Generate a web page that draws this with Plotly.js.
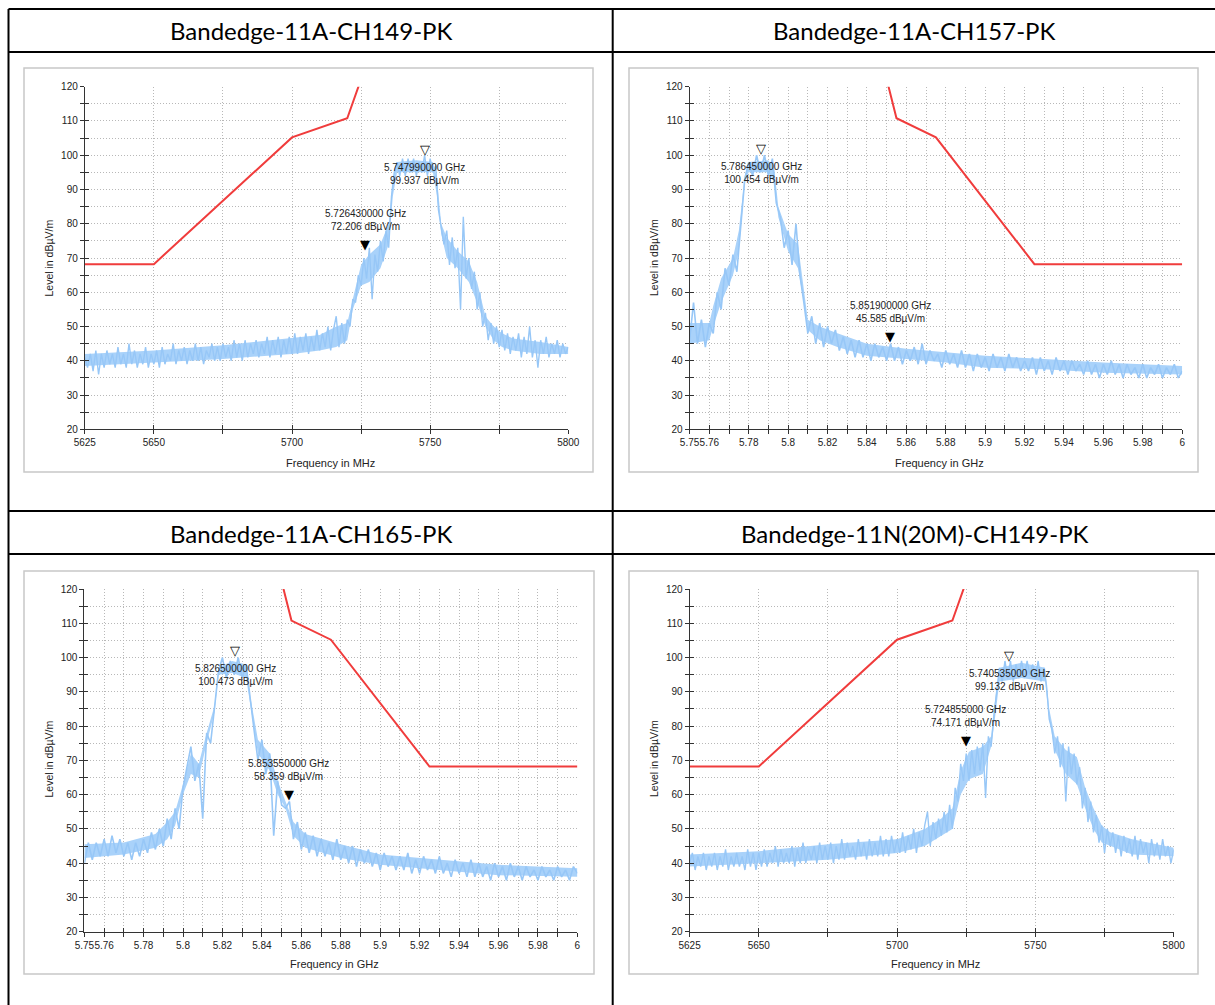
<!DOCTYPE html>
<html>
<head>
<meta charset="utf-8">
<script src="https://cdn.plot.ly/plotly-3.0.1.min.js"></script>
<style>
html,body{margin:0;padding:0;background:#fff;}
#chart{width:1215px;height:1005px;}
</style>
</head>
<body>
<div id="chart"></div>
<script>
// ---------------- DATA ----------------
const panelTitles = ['Bandedge-11A-CH149-PK','Bandedge-11A-CH157-PK','Bandedge-11A-CH165-PK','Bandedge-11N(20M)-CH149-PK'];

// sweep frequencies (MHz panels)
const freqMHz = [
5625,5626,5627,5628,5629,5630,5631,5632,5633,5634,5635,5636,5637,5638,5639,5640,5641,5642,5643,5644,5645,5646,5647,5648,5649,
5650,5651,5652,5653,5654,5655,5656,5657,5658,5659,5660,5661,5662,5663,5664,5665,5666,5667,5668,5669,5670,5671,5672,5673,5674,
5675,5676,5677,5678,5679,5680,5681,5682,5683,5684,5685,5686,5687,5688,5689,5690,5691,5692,5693,5694,5695,5696,5697,5698,5699,
5700,5701,5702,5703,5704,5705,5706,5707,5708,5709,5710,5711,5712,5713,5714,5715,5716,5717,5718,5719,5720,5721,5722,5723,5724,
5725,5726,5727,5728,5729,5730,5731,5732,5733,5734,5735,5736,5737,5738,5739,5740,5741,5742,5743,5744,5745,5746,5747,5748,5749,
5750,5751,5752,5753,5754,5755,5756,5757,5758,5759,5760,5761,5762,5763,5764,5765,5766,5767,5768,5769,5770,5771,5772,5773,5774,
5775,5776,5777,5778,5779,5780,5781,5782,5783,5784,5785,5786,5787,5788,5789,5790,5791,5792,5793,5794,5795,5796,5797,5798,5799,
5800];

// sweep frequencies (GHz panels)
const freqGHz = [
5.750,5.752,5.754,5.756,5.758,5.760,5.762,5.764,5.766,5.768,
5.770,5.772,5.774,5.776,5.778,5.780,5.782,5.784,5.786,5.788,
5.790,5.792,5.794,5.796,5.798,5.800,5.802,5.804,5.806,5.808,
5.810,5.812,5.814,5.816,5.818,5.820,5.822,5.824,5.826,5.828,
5.830,5.832,5.834,5.836,5.838,5.840,5.842,5.844,5.846,5.848,
5.850,5.852,5.854,5.856,5.858,5.860,5.862,5.864,5.866,5.868,
5.870,5.872,5.874,5.876,5.878,5.880,5.882,5.884,5.886,5.888,
5.890,5.892,5.894,5.896,5.898,5.900,5.902,5.904,5.906,5.908,
5.910,5.912,5.914,5.916,5.918,5.920,5.922,5.924,5.926,5.928,
5.930,5.932,5.934,5.936,5.938,5.940,5.942,5.944,5.946,5.948,
5.950,5.952,5.954,5.956,5.958,5.960,5.962,5.964,5.966,5.968,
5.970,5.972,5.974,5.976,5.978,5.980,5.982,5.984,5.986,5.988,
5.990,5.992,5.994,5.996,5.998,
6.000];

const level11A_CH149 = [
41,38,42,37,43,36,42,38,43,39,42,38,44,39,42,38,45,39,43,38,42,39,44,38,42,
39,43,38,44,39,42,40,45,39,43,40,44,39,43,40,45,40,44,39,43,41,45,40,44,40,
45,41,44,40,46,41,45,40,46,41,45,42,46,41,45,42,47,41,46,42,47,41,46,42,47,
42,48,42,47,43,48,42,47,43,49,43,48,44,50,43,49,53,44,51,45,52,50,58,57,65,
62,70,64,73,58,71,66,75,69,78,73,88,95,98,94,99,94,99,95,99,94,98,95,100,94,
99,95,97,84,79,74,78,68,76,67,73,55,82,64,70,61,66,55,60,50,54,46,51,45,50,
44,49,43,48,42,47,43,48,41,47,42,50,41,46,38,46,42,47,41,45,42,46,41,45,42,
44];

const level11N_CH149 = [
40,43,38,42,39,43,38,42,39,43,38,42,39,44,38,42,39,43,39,42,38,44,39,43,38,
43,39,44,39,43,40,45,39,44,40,43,40,45,39,44,40,46,40,44,41,45,40,46,41,45,
41,46,40,45,41,47,41,46,42,45,41,47,42,46,41,47,42,46,42,48,42,47,42,48,43,
47,43,49,43,48,44,50,43,49,45,51,55,45,52,47,53,48,55,49,57,50,62,58,69,64,
72,64,73,66,74,67,75,59,77,74,83,90,97,93,99,94,99,93,98,94,99,94,99,95,98,
94,99,93,97,92,82,79,72,77,68,75,58,74,66,72,63,68,56,62,52,58,49,54,46,51,
43,50,45,49,43,48,42,48,43,47,42,48,41,47,43,46,40,47,42,46,41,47,42,45,40,
44];

const level11A_CH157 = [
46,57,45,52,44,51,48,60,55,67,
62,71,66,80,93,98,94,100,95,100,
94,99,86,82,73,78,68,80,65,57,
48,53,45,51,44,50,45,49,43,47,
42,46,41,46,41,45,40,45,41,44,
40,45,40,44,39,43,40,44,39,45,
39,43,40,42,38,43,39,42,38,43,
38,42,37,42,38,41,37,42,38,41,
37,42,38,41,37,40,37,41,36,41,
37,40,36,41,37,40,36,40,37,39,
36,40,36,39,35,39,36,40,36,39,
35,39,36,38,35,39,35,38,36,39,
35,38,36,39,35,
37];

const level11A_CH165 = [
40,46,41,46,42,47,42,48,43,47,
42,46,41,46,42,47,43,49,44,50,
45,53,47,56,50,62,68,74,64,69,
53,78,75,85,96,100,94,99,95,100,
94,98,88,79,70,76,66,72,48,64,
57,56,58,47,52,44,49,43,48,42,
47,42,46,41,47,41,45,40,45,39,
44,40,44,39,43,38,43,39,42,38,
42,38,43,37,41,37,42,38,41,37,
42,37,40,36,41,37,40,36,41,36,
40,36,39,35,40,36,39,35,40,36,
39,35,39,36,38,35,39,36,38,35,
39,36,38,35,39,
37];

// dense core of each noisy trace (lower / upper edge of the solid band)
const band11A_CH149_F  = [5625,5650,5675,5700,5710,5716,5720,5722,5725,5728,5732,5735,5736.5,5738,5745,5751,5752.5,5754,5756,5760,5764,5767,5770,5773,5776,5780,5790,5800];
const band11A_CH149_Lo = [38.5,39.5,40.5,42,43,44,46,55,62,63,67,74,88,95,95,95,88,77,70,67,63,57,50,46,44,43,42,42];
const band11A_CH149_Hi = [42,43,44.5,46.5,47.5,50,51,58,68,71,74,80,93,98,98.5,98,93,80,76,72,69,63,53,50,48,46.5,45.5,44];

const band11N_CH149_F  = [5625,5650,5675,5700,5710,5716,5720,5723,5726,5731,5734,5735.5,5737,5745,5753.5,5755,5757,5761,5765,5768,5771,5774,5777,5785,5800];
const band11N_CH149_Lo = [39,40,41,43,45,48,50,60,64.5,66,74,83,93,94,93,82,73,66,63,56,50,46,45,42.5,42];
const band11N_CH149_Hi = [42.5,43.5,45.5,47,50,53,56,67,72.5,74,77,88,97,98.5,97,85,77,73,71,62,56,51,49,47,44.5];

const band11A_CH157_F  = [5.750,5.760,5.762,5.766,5.772,5.775,5.778,5.780,5.790,5.793,5.795,5.800,5.805,5.808,5.810,5.816,5.825,5.840,5.860,5.880,5.900,5.930,5.960,6.000];
const band11A_CH157_Lo = [45,46,50,57,65,72,92,95,95,92,82,72,67,57,49,46,44,41.5,40.5,39.5,38,37.5,36.5,36];
const band11A_CH157_Hi = [51,51,56,64,70,78,94,98,98.5,96,85,77,74,60,52,50,48,45,43.5,42.5,41.5,40.5,39.5,38.5];

const band11A_CH165_F  = [5.750,5.770,5.786,5.792,5.796,5.800,5.804,5.808,5.812,5.816,5.818,5.825,5.832,5.834,5.838,5.844,5.848,5.852,5.856,5.862,5.880,5.900,5.930,5.960,6.000];
const band11A_CH165_Lo = [41.5,42.5,44.5,47,51,60,66,65,75,84,95,95.5,94,87,72,67,60,56,48,44.5,41.5,39.5,38,36.5,36];
const band11A_CH165_Hi = [45.5,46,48.5,52,55,63,72,69,78,86,97,99,98,89,76,72,64,58,52,48.5,45.5,42.5,41,39.5,38.5];

// limit lines
const limitLowerEdgeF = [5625, 5650, 5700, 5720, 5725];
const limitLowerEdgeL = [68.2, 68.2, 105.2, 110.8, 122.2];
const limitUpperEdgeF = [5.85, 5.855, 5.875, 5.925, 6.0];
const limitUpperEdgeL = [122.2, 110.8, 105.2, 68.2, 68.2];

// markers (M1 = peak, M2 = edge)
const markers11A_CH149_F = [5747.99, 5726.43];
const markers11A_CH149_L = [99.937, 72.206];
const markers11A_CH157_F = [5.78645, 5.8519];
const markers11A_CH157_L = [100.454, 45.585];
const markers11A_CH165_F = [5.8265, 5.85355];
const markers11A_CH165_L = [100.473, 58.359];
const markers11N_CH149_F = [5740.535, 5724.855];
const markers11N_CH149_L = [99.132, 74.171];

// ticks
const mhzTickVals = [5625,5650,5675,5700,5725,5750,5775,5800];
const mhzTickText = ['5625','5650','','5700','','5750','','5800'];
const ghzTickVals = [5.75,5.76,5.77,5.78,5.79,5.8,5.81,5.82,5.83,5.84,5.85,5.86,5.87,5.88,5.89,5.9,5.91,5.92,5.93,5.94,5.95,5.96,5.97,5.98,5.99,6];
const ghzTickText = ['5.75','5.76','','5.78','','5.8','','5.82','','5.84','','5.86','','5.88','','5.9','','5.92','','5.94','','5.96','','5.98','','6'];
const levelTickVals = [20,30,40,50,60,70,80,90,100,110,120];

// ---------------- LAYOUT ----------------
const W = 1215, H = 1005;
const PX = x => x / W;
const PY = y => 1 - y / H;

const panels = [
  {title: panelTitles[0], f: freqMHz, l: level11A_CH149, lf: limitLowerEdgeF, ll: limitLowerEdgeL,
   bf: band11A_CH149_F, blo: band11A_CH149_Lo, bhi: band11A_CH149_Hi,
   range: [5625, 5800], tv: mhzTickVals, tt: mhzTickText, unit: 'MHz', scale: 1000,
   mf: markers11A_CH149_F, ml: markers11A_CH149_L,
   plot: [84.8, 568.3, 86.7, 429.3], frame: [24, 593, 68, 472], titleXY: [311, 31],
   xt: [330, 463], yt: [48.5, 258]},
  {title: panelTitles[1], f: freqGHz, l: level11A_CH157, lf: limitUpperEdgeF, ll: limitUpperEdgeL,
   bf: band11A_CH157_F, blo: band11A_CH157_Lo, bhi: band11A_CH157_Hi,
   range: [5.75, 6], tv: ghzTickVals, tt: ghzTickText, unit: 'GHz', scale: 1,
   mf: markers11A_CH157_F, ml: markers11A_CH157_L,
   plot: [689.6, 1182.2, 86.7, 429.3], frame: [629, 1198, 68, 472], titleXY: [914.5, 31],
   xt: [939, 463], yt: [654, 258]},
  {title: panelTitles[2], f: freqGHz, l: level11A_CH165, lf: limitUpperEdgeF, ll: limitUpperEdgeL,
   bf: band11A_CH165_F, blo: band11A_CH165_Lo, bhi: band11A_CH165_Hi,
   range: [5.75, 6], tv: ghzTickVals, tt: ghzTickText, unit: 'GHz', scale: 1,
   mf: markers11A_CH165_F, ml: markers11A_CH165_L,
   plot: [84.4, 577.4, 589, 931.7], frame: [24, 594, 571, 974], titleXY: [311.5, 533],
   xt: [334, 964], yt: [48.5, 759]},
  {title: panelTitles[3], f: freqMHz, l: level11N_CH149, lf: limitLowerEdgeF, ll: limitLowerEdgeL,
   bf: band11N_CH149_F, blo: band11N_CH149_Lo, bhi: band11N_CH149_Hi,
   range: [5625, 5800], tv: mhzTickVals, tt: mhzTickText, unit: 'MHz', scale: 1000,
   mf: markers11N_CH149_F, ml: markers11N_CH149_L,
   plot: [689.6, 1173.7, 589, 931.7], frame: [629, 1198, 571, 974], titleXY: [914.5, 533],
   xt: [935, 964], yt: [654, 759]}
];

const tickFont = {family: 'Liberation Sans, Arial, sans-serif', size: 10, color: '#222'};
const gridColor = '#b8b8b8';
const gridDash = '1px,2px';
const axisColor = '#333';
const traceColor = '#97c7f7';
const bandColor = '#a9d2fa';

const traces = [];
const layout = {
  width: W, height: H,
  margin: {l: 0, r: 0, t: 0, b: 0},
  paper_bgcolor: '#fff', plot_bgcolor: 'rgba(0,0,0,0)',
  showlegend: false,
  shapes: [], annotations: []
};

panels.forEach((p, i) => {
  const n = i + 1, o = i + 5;
  const xa = 'x' + n, ya = 'y' + n, xo = 'x' + o, yo = 'y' + o;
  const xdom = [PX(p.plot[0]), PX(p.plot[1])];
  const ydom = [PY(p.plot[3]), PY(p.plot[2])];

  layout['xaxis' + n] = {
    domain: xdom, anchor: ya, range: p.range, tickmode: 'array', tickvals: p.tv, ticktext: p.tt,
    ticks: 'outside', ticklen: 4, tickcolor: axisColor, tickwidth: 1,
    showline: true, linecolor: axisColor, linewidth: 1,
    showgrid: true, gridcolor: gridColor, griddash: gridDash, gridwidth: 1,
    zeroline: false, tickfont: tickFont, fixedrange: true, tickangle: 0
  };
  layout['yaxis' + n] = {
    domain: ydom, anchor: xa, range: [20, 120], tickmode: 'array', tickvals: levelTickVals,
    ticks: 'outside', ticklen: 4, tickcolor: axisColor, tickwidth: 1,
    minor: {dtick: 5, tick0: 20, ticks: 'outside', ticklen: 4, tickcolor: axisColor,
            showgrid: true, gridcolor: gridColor, griddash: gridDash, gridwidth: 1},
    showline: true, linecolor: axisColor, linewidth: 1,
    showgrid: true, gridcolor: gridColor, griddash: gridDash, gridwidth: 1,
    zeroline: false, tickfont: tickFont, fixedrange: true
  };
  // overlay axes for inner half of cross ticks
  layout['xaxis' + o] = {
    overlaying: xa, anchor: ya, side: 'bottom', range: p.range, tickmode: 'array', tickvals: p.tv,
    ticks: 'inside', ticklen: 4, tickcolor: axisColor, showticklabels: false,
    showgrid: false, showline: false, zeroline: false, fixedrange: true
  };
  layout['yaxis' + o] = {
    overlaying: ya, anchor: xa, side: 'left', range: [20, 120], tickmode: 'array', tickvals: levelTickVals,
    ticks: 'inside', ticklen: 4, tickcolor: axisColor, showticklabels: false,
    minor: {dtick: 5, tick0: 20, ticks: 'inside', ticklen: 4, tickcolor: axisColor, showgrid: false},
    showgrid: false, showline: false, zeroline: false, fixedrange: true
  };

  traces.push({x: [], y: [], xaxis: xo, yaxis: ya, type: 'scatter', hoverinfo: 'skip'});
  traces.push({x: [], y: [], xaxis: xa, yaxis: yo, type: 'scatter', hoverinfo: 'skip'});

  // dense band of the noisy trace
  traces.push({x: p.bf, y: p.blo, xaxis: xa, yaxis: ya, type: 'scatter', mode: 'lines',
    line: {width: 0, color: bandColor}, hoverinfo: 'skip'});
  traces.push({x: p.bf, y: p.bhi, xaxis: xa, yaxis: ya, type: 'scatter', mode: 'lines',
    fill: 'tonexty', fillcolor: bandColor, line: {width: 0, color: bandColor}, hoverinfo: 'skip'});
  // measured trace
  traces.push({x: p.f, y: p.l, xaxis: xa, yaxis: ya, type: 'scatter', mode: 'lines',
    line: {color: traceColor, width: p.unit === 'MHz' ? 1.4 : 1.6}, hoverinfo: 'skip'});
  // limit line
  traces.push({x: p.lf, y: p.ll, xaxis: xa, yaxis: ya, type: 'scatter', mode: 'lines',
    line: {color: '#f03c3c', width: 2}, hoverinfo: 'skip'});

  // markers
  p.mf.forEach((mf, k) => {
    const isPeak = k === 0;
    layout.annotations.push({
      xref: xa, yref: ya, x: mf, y: p.ml[k], text: isPeak ? '▽' : '▼',
      showarrow: false, xanchor: 'center', yanchor: 'bottom', yshift: -4,
      font: {family: 'DejaVu Sans', size: 13, color: '#000'}
    });
    const label = (mf / p.scale).toFixed(9) + ' GHz<br>' + p.ml[k].toFixed(3) + ' dBµV/m';
    layout.annotations.push({
      xref: xa, yref: ya, x: mf, y: p.ml[k], text: label,
      showarrow: false, xanchor: 'center', yanchor: isPeak ? 'top' : 'bottom',
      yshift: isPeak ? -5 : 16, align: 'center',
      font: {family: 'Liberation Sans, Arial, sans-serif', size: 10, color: '#222'}
    });
  });

  // axis titles
  layout.annotations.push({xref: 'paper', yref: 'paper', x: PX(p.xt[0]), y: PY(p.xt[1]),
    text: 'Frequency in ' + p.unit, showarrow: false, xanchor: 'center', yanchor: 'middle',
    font: {family: 'Liberation Sans, Arial, sans-serif', size: 11, color: '#222'}});
  layout.annotations.push({xref: 'paper', yref: 'paper', x: PX(p.yt[0]), y: PY(p.yt[1]),
    text: 'Level in dBµV/m', showarrow: false, xanchor: 'center', yanchor: 'middle', textangle: -90,
    font: {family: 'Liberation Sans, Arial, sans-serif', size: 10.5, color: '#222'}});

  // cell title
  layout.annotations.push({xref: 'paper', yref: 'paper', x: PX(p.titleXY[0]), y: PY(p.titleXY[1]),
    text: p.title, showarrow: false, xanchor: 'center', yanchor: 'middle',
    font: {family: 'Lato, Carlito, sans-serif', size: 24, color: '#000'}});

  // chart frame
  layout.shapes.push({type: 'rect', xref: 'paper', yref: 'paper', layer: 'below',
    x0: PX(p.frame[0]), x1: PX(p.frame[1]), y0: PY(p.frame[3]), y1: PY(p.frame[2]),
    line: {color: '#c8c8c8', width: 1.5}, fillcolor: 'rgba(0,0,0,0)'});
});

// table grid lines
[9, 52, 511, 554].forEach(y => layout.shapes.push({type: 'line', xref: 'paper', yref: 'paper',
  x0: PX(8.5), x1: 1, y0: PY(y), y1: PY(y), line: {color: '#000', width: 2}}));
[8.5, 612.7].forEach(x => layout.shapes.push({type: 'line', xref: 'paper', yref: 'paper',
  x0: PX(x), x1: PX(x), y0: PY(9), y1: 0, line: {color: '#000', width: 2}}));

Plotly.newPlot('chart', traces, layout, {staticPlot: true, displayModeBar: false});
</script>
</body>
</html>
